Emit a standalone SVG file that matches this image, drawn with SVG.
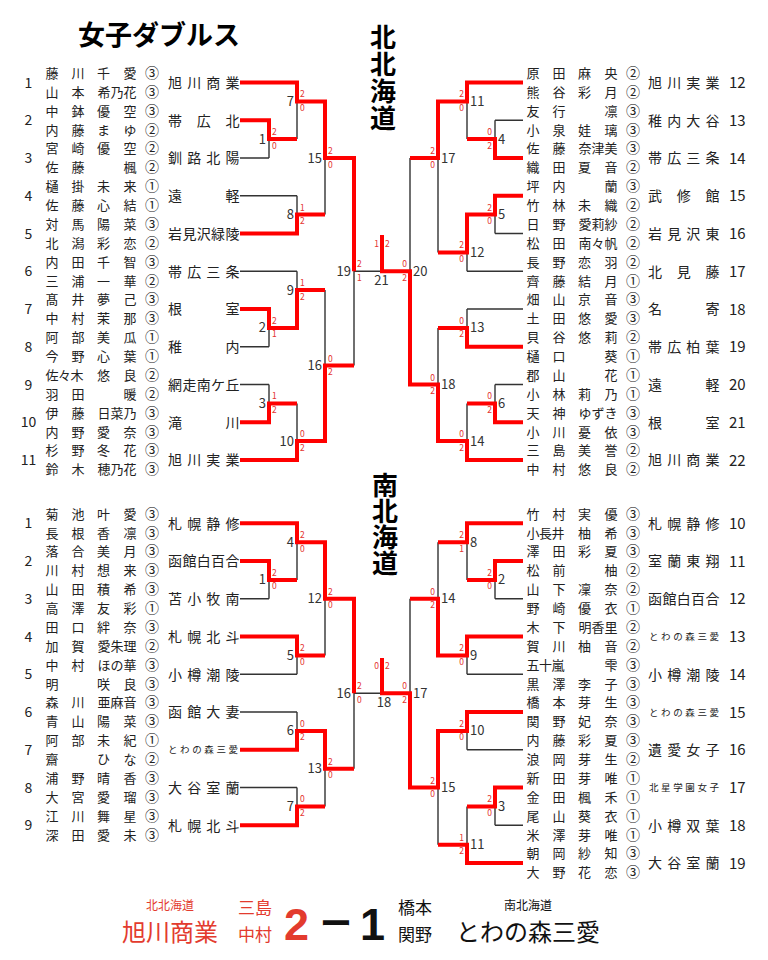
<svg xmlns="http://www.w3.org/2000/svg" width="768" height="960" viewBox="0 0 768 960">
<style>
text{font-family:"Noto Sans CJK JP","Noto Sans",sans-serif;fill:#222}
.nm{font-size:13px}
.cn{font-size:14px}
.tm{font-size:14px}
.ts{font-size:9.5px}
.no{font-size:14px;text-anchor:middle}
.rn{font-size:15px}
.ml{font-size:13px;fill:#333}
.mr{font-size:13px;fill:#333;text-anchor:end}
.mc{font-size:13px;fill:#333;text-anchor:middle}
.sl{font-size:8.5px;fill:#e4332f}
.sr{font-size:8.5px;fill:#e4332f;text-anchor:end}
.bk{fill:none;stroke:#333;stroke-width:1.4}
.rd{fill:none;stroke:#ff0000;stroke-width:4;stroke-linejoin:miter}
.ttl{font-size:27px;font-weight:bold;fill:#000}
.vt{font-size:26px;font-weight:bold;fill:#000;text-anchor:middle}
</style>
<rect width="768" height="960" fill="#fff"/>
<text class="ttl" x="78" y="45">女子ダブルス</text>
<text class="vt" x="383 383 383 383" y="47 74 101 128">北北海道</text>
<text class="vt" x="385 385 385 385" y="495 521 547 573">南北海道</text>

<g id="connectors">
<path class="bk" d="M240,82.5H297M240,120.25H269M240,158H269M240,195.75H297M240,233.5H297M240,271.25H297M240,309H269M240,346.75H269M240,384.5H269M240,422.25H269M240,460H297M269,120.25V158M297,82.5V139.1M297,195.75V233.5M325,101.4V214.6M269,309V346.75M297,271.25V327.9M269,384.5V422.25M297,403.4V460M325,290.1V441.1M354,158V365.6M269,139.1H297M297,101.4H325M297,214.6H325M325,158H354M269,327.9H297M297,290.1H325M269,403.4H297M297,441.1H325M325,365.6H354M354,271.25H382"/>
<path class="bk" d="M523,82.5H467M523,120.25H495M523,158H495M523,195.75H495M523,233.5H495M523,271.25H467M523,309H467M523,346.75H467M523,384.5H495M523,422.25H495M523,460H467M495,120.25V158M467,82.5V139.1M495,195.75V233.5M467,214.6V271.25M438,101.4V252.4M467,309V346.75M495,384.5V422.25M467,403.4V460M438,327.9V441.1M410,158V384.5M495,139.1H467M467,101.4H438M495,214.6H467M467,252.4H438M438,158H410M467,327.9H438M495,403.4H467M467,441.1H438M438,384.5H410M410,271.25H382"/>
<path class="bk" d="M240,523.3H297M240,561.05H269M240,598.8H269M240,636.55H297M240,674.3H297M240,712.05H297M240,749.8H297M240,787.55H297M240,825.3H297M269,561.05V598.8M297,523.3V579.9M297,636.55V674.3M325,542.2V655.4M297,712.05V749.8M297,787.55V825.3M325,730.9V806.4M354,598.8V768.7M269,579.9H297M297,542.2H325M297,655.4H325M325,598.8H354M297,730.9H325M297,806.4H325M325,768.7H354M354,693.2H382"/>
<path class="bk" d="M523,523.3H467M523,561.05H495M523,598.8H495M523,636.55H467M523,674.3H467M523,712.05H467M523,749.8H467M523,787.55H495M523,825.3H495M523,863.05H467M495,561.05V598.8M467,523.3V579.9M467,636.55V674.3M438,542.2V655.4M467,712.05V749.8M495,787.55V825.3M467,806.4V863.05M438,730.9V844.8M410,598.8V787.55M495,579.9H467M467,542.2H438M467,655.4H438M438,598.8H410M467,730.9H438M495,806.4H467M467,844.8H438M438,787.55H410M410,693.2H382"/>
<path class="rd" d="M240,82.5H297V101.4H325V158H354V271.25"/>
<path class="rd" d="M240,120.25H269V139.1H297"/>
<path class="rd" d="M240,233.5H297V214.6H325"/>
<path class="rd" d="M240,309H269V327.9H297V290.1H325"/>
<path class="rd" d="M240,422.25H269V403.4H297"/>
<path class="rd" d="M240,460H297V441.1H325V365.6H354"/>
<path class="rd" d="M523,82.5H467V101.4H438V158H410"/>
<path class="rd" d="M523,158H495V139.1H467"/>
<path class="rd" d="M523,195.75H495V214.6H467V252.4H438"/>
<path class="rd" d="M523,346.75H467V327.9H438"/>
<path class="rd" d="M523,422.25H495V403.4H467"/>
<path class="rd" d="M523,460H467V441.1H438V384.5H410V271.25H382V235"/>
<path class="rd" d="M240,523.3H297V542.2H325V598.8H354V693.2"/>
<path class="rd" d="M240,561.05H269V579.9H297"/>
<path class="rd" d="M240,636.55H297V655.4H325"/>
<path class="rd" d="M240,749.8H297V730.9H325V768.7H354"/>
<path class="rd" d="M240,825.3H297V806.4H325"/>
<path class="rd" d="M523,523.3H467V542.2H438"/>
<path class="rd" d="M523,561.05H495V579.9H467"/>
<path class="rd" d="M523,636.55H467V655.4H438V598.8H410"/>
<path class="rd" d="M523,712.05H467V730.9H438V787.55H410V693.2H382V658"/>
<path class="rd" d="M523,787.55H495V806.4H467"/>
<path class="rd" d="M523,863.05H467V844.8H438"/>
</g>

<g id="scores">
<text class="sl" x="272" y="135.1">2</text><text class="sl" x="272" y="148.6">0</text>
<text class="sl" x="300" y="97.4">2</text><text class="sl" x="300" y="110.9">0</text>
<text class="sl" x="300" y="210.6">1</text><text class="sl" x="300" y="224.1">2</text>
<text class="sl" x="328" y="154">2</text><text class="sl" x="328" y="167.5">0</text>
<text class="sl" x="272" y="323.9">2</text><text class="sl" x="272" y="337.4">1</text>
<text class="sl" x="300" y="286.1">1</text><text class="sl" x="300" y="299.6">2</text>
<text class="sl" x="272" y="399.4">1</text><text class="sl" x="272" y="412.9">2</text>
<text class="sl" x="300" y="437.1">0</text><text class="sl" x="300" y="450.6">2</text>
<text class="sl" x="328" y="361.6">0</text><text class="sl" x="328" y="375.1">2</text>
<text class="sl" x="357" y="267.25">2</text><text class="sl" x="357" y="280.75">1</text>
<text class="sr" x="492" y="135.1">0</text><text class="sr" x="492" y="148.6">2</text>
<text class="sr" x="464" y="97.4">2</text><text class="sr" x="464" y="110.9">0</text>
<text class="sr" x="492" y="210.6">2</text><text class="sr" x="492" y="224.1">0</text>
<text class="sr" x="464" y="248.4">2</text><text class="sr" x="464" y="261.9">0</text>
<text class="sr" x="435" y="154">2</text><text class="sr" x="435" y="167.5">0</text>
<text class="sr" x="464" y="323.9">0</text><text class="sr" x="464" y="337.4">2</text>
<text class="sr" x="492" y="399.4">0</text><text class="sr" x="492" y="412.9">2</text>
<text class="sr" x="464" y="437.1">0</text><text class="sr" x="464" y="450.6">2</text>
<text class="sr" x="435" y="380.5">0</text><text class="sr" x="435" y="394">2</text>
<text class="sr" x="407" y="267.25">0</text><text class="sr" x="407" y="280.75">2</text>
<text class="sr" x="379" y="247">1</text><text class="sl" x="385" y="247">2</text>
<text class="sl" x="272" y="575.9">2</text><text class="sl" x="272" y="589.4">0</text>
<text class="sl" x="300" y="538.2">2</text><text class="sl" x="300" y="551.7">0</text>
<text class="sl" x="300" y="651.4">2</text><text class="sl" x="300" y="664.9">0</text>
<text class="sl" x="328" y="594.8">2</text><text class="sl" x="328" y="608.3">0</text>
<text class="sl" x="300" y="726.9">0</text><text class="sl" x="300" y="740.4">2</text>
<text class="sl" x="300" y="802.4">0</text><text class="sl" x="300" y="815.9">2</text>
<text class="sl" x="328" y="764.7">2</text><text class="sl" x="328" y="778.2">0</text>
<text class="sl" x="357" y="689.2">2</text><text class="sl" x="357" y="702.7">0</text>
<text class="sr" x="492" y="575.9">2</text><text class="sr" x="492" y="589.4">0</text>
<text class="sr" x="464" y="538.2">2</text><text class="sr" x="464" y="551.7">1</text>
<text class="sr" x="464" y="651.4">2</text><text class="sr" x="464" y="664.9">0</text>
<text class="sr" x="435" y="594.8">0</text><text class="sr" x="435" y="608.3">2</text>
<text class="sr" x="464" y="726.9">2</text><text class="sr" x="464" y="740.4">0</text>
<text class="sr" x="492" y="802.4">2</text><text class="sr" x="492" y="815.9">0</text>
<text class="sr" x="464" y="840.8">1</text><text class="sr" x="464" y="854.3">2</text>
<text class="sr" x="435" y="783.55">2</text><text class="sr" x="435" y="797.05">0</text>
<text class="sr" x="407" y="689.2">0</text><text class="sr" x="407" y="702.7">2</text>
<text class="sr" x="379" y="669">0</text><text class="sl" x="385" y="669">2</text>
</g>

<g id="match-labels">
<text class="mr" x="266" y="143.6">1</text><text class="mr" x="294" y="105.9">7</text><text class="mr" x="294" y="219.1">8</text><text class="mr" x="322" y="162.5">15</text><text class="mr" x="266" y="332.4">2</text><text class="mr" x="294" y="294.6">9</text><text class="mr" x="266" y="407.9">3</text><text class="mr" x="294" y="445.6">10</text><text class="mr" x="322" y="370.1">16</text><text class="mr" x="351" y="275.75">19</text>
<text class="ml" x="498" y="143.6">4</text><text class="ml" x="470" y="105.9">11</text><text class="ml" x="498" y="219.1">5</text><text class="ml" x="470" y="256.9">12</text><text class="ml" x="441" y="162.5">17</text><text class="ml" x="470" y="332.4">13</text><text class="ml" x="498" y="407.9">6</text><text class="ml" x="470" y="445.6">14</text><text class="ml" x="441" y="389">18</text><text class="ml" x="413" y="275.75">20</text>
<text class="mc" x="381.5" y="285">21</text>
<text class="mr" x="266" y="584.4">1</text><text class="mr" x="294" y="546.7">4</text><text class="mr" x="294" y="659.9">5</text><text class="mr" x="322" y="603.3">12</text><text class="mr" x="294" y="735.4">6</text><text class="mr" x="294" y="810.9">7</text><text class="mr" x="322" y="773.2">13</text><text class="mr" x="351" y="697.7">16</text>
<text class="ml" x="498" y="584.4">2</text><text class="ml" x="470" y="546.7">8</text><text class="ml" x="470" y="659.9">9</text><text class="ml" x="441" y="603.3">14</text><text class="ml" x="470" y="735.4">10</text><text class="ml" x="498" y="810.9">3</text><text class="ml" x="470" y="849.3">11</text><text class="ml" x="441" y="792.05">15</text><text class="ml" x="413" y="697.7">17</text>
<text class="mc" x="384" y="707">18</text>
</g>

<!-- top left entries -->
<g id="nl1"><text class="no" x="28.5" y="87.5">1</text><text class="nm" x="45.5 71.5 97 123.5" y="77.9">藤川千愛<tspan class="cn" x="145">③</tspan></text><text class="nm" x="45.5 71.5 97.5 110.5 123.5" y="96.8">山本希乃花<tspan class="cn" x="145">③</tspan></text><text class="tm" x="168 187.2 206.3 225.5" y="87.8">旭川商業</text></g>
<g id="nl2"><text class="no" x="28.5" y="125.25">2</text><text class="nm" x="45.5 71.5 97 123.5" y="115.65">中鉢優空<tspan class="cn" x="145">③</tspan></text><text class="nm" x="45.5 71.5 97 123.5" y="134.55">内藤まゆ<tspan class="cn" x="145">②</tspan></text><text class="tm" x="168 196.75 225.5" y="125.55">帯広北</text></g>
<g id="nl3"><text class="no" x="28.5" y="163">3</text><text class="nm" x="45.5 71.5 97 123.5" y="153.4">宮崎優空<tspan class="cn" x="145">②</tspan></text><text class="nm" x="45.5 71.5 123.5" y="172.3">佐藤楓<tspan class="cn" x="145">②</tspan></text><text class="tm" x="168 187.2 206.3 225.5" y="163.3">釧路北陽</text></g>
<g id="nl4"><text class="no" x="28.5" y="200.75">4</text><text class="nm" x="45.5 71.5 97 123.5" y="191.15">樋掛未来<tspan class="cn" x="145">①</tspan></text><text class="nm" x="45.5 71.5 97 123.5" y="210.05">佐藤心結<tspan class="cn" x="145">①</tspan></text><text class="tm" x="168 225.5" y="201.05">遠軽</text></g>
<g id="nl5"><text class="no" x="28.5" y="238.5">5</text><text class="nm" x="45.5 71.5 97 123.5" y="228.9">対馬陽菜<tspan class="cn" x="145">③</tspan></text><text class="nm" x="45.5 71.5 97 123.5" y="247.8">北潟彩恋<tspan class="cn" x="145">②</tspan></text><text class="tm" x="168 182.4 196.75 211.1 225.5" y="238.8">岩見沢緑陵</text></g>
<g id="nl6"><text class="no" x="28.5" y="276.25">6</text><text class="nm" x="45.5 71.5 97 123.5" y="266.65">内田千智<tspan class="cn" x="145">③</tspan></text><text class="nm" x="45.5 71.5 97 123.5" y="285.55">三浦一華<tspan class="cn" x="145">②</tspan></text><text class="tm" x="168 187.2 206.3 225.5" y="276.55">帯広三条</text></g>
<g id="nl7"><text class="no" x="28.5" y="314">7</text><text class="nm" x="45.5 71.5 97 123.5" y="304.4">髙井夢己<tspan class="cn" x="145">③</tspan></text><text class="nm" x="45.5 71.5 97 123.5" y="323.3">中村茉那<tspan class="cn" x="145">③</tspan></text><text class="tm" x="168 225.5" y="314.3">根室</text></g>
<g id="nl8"><text class="no" x="28.5" y="351.75">8</text><text class="nm" x="45.5 71.5 97 123.5" y="342.15">阿部美瓜<tspan class="cn" x="145">①</tspan></text><text class="nm" x="45.5 71.5 97 123.5" y="361.05">今野心葉<tspan class="cn" x="145">①</tspan></text><text class="tm" x="168 225.5" y="352.05">稚内</text></g>
<g id="nl9"><text class="no" x="28.5" y="389.5">9</text><text class="nm" x="45.5 58 70.5 97 123.5" y="379.9">佐々木悠良<tspan class="cn" x="145">②</tspan></text><text class="nm" x="45.5 71.5 123.5" y="398.8">羽田暖<tspan class="cn" x="145">②</tspan></text><text class="tm" x="168 182.4 196.75 211.1 225.5" y="389.8">網走南ケ丘</text></g>
<g id="nl10"><text class="no" x="28.5" y="427.25">10</text><text class="nm" x="45.5 71.5 97.5 110.5 123.5" y="417.65">伊藤日菜乃<tspan class="cn" x="145">③</tspan></text><text class="nm" x="45.5 71.5 97 123.5" y="436.55">内野愛奈<tspan class="cn" x="145">③</tspan></text><text class="tm" x="168 225.5" y="427.55">滝川</text></g>
<g id="nl11"><text class="no" x="28.5" y="465">11</text><text class="nm" x="45.5 71.5 97 123.5" y="455.4">杉野冬花<tspan class="cn" x="145">③</tspan></text><text class="nm" x="45.5 71.5 97.5 110.5 123.5" y="474.3">鈴木穂乃花<tspan class="cn" x="145">③</tspan></text><text class="tm" x="168 187.2 206.3 225.5" y="465.3">旭川実業</text></g>

<!-- top right entries -->
<g id="nr12"><text class="nm" x="526.5 552.5 578 604.5" y="77.9">原田麻央<tspan class="cn" x="626">②</tspan></text><text class="nm" x="526.5 552.5 578 604.5" y="96.8">熊谷彩月<tspan class="cn" x="626">②</tspan></text><text class="tm" x="648 667.2 686.3 705.5" y="87.8">旭川実業</text><text class="rn" x="729" y="88">12</text></g>
<g id="nr13"><text class="nm" x="526.5 552.5 604.5" y="115.65">友行凛<tspan class="cn" x="626">③</tspan></text><text class="nm" x="526.5 552.5 578 604.5" y="134.55">小泉娃璃<tspan class="cn" x="626">③</tspan></text><text class="tm" x="648 667.2 686.3 705.5" y="125.55">稚内大谷</text><text class="rn" x="729" y="125.75">13</text></g>
<g id="nr14"><text class="nm" x="526.5 552.5 578.5 591.5 604.5" y="153.4">佐藤奈津美<tspan class="cn" x="626">③</tspan></text><text class="nm" x="526.5 552.5 578 604.5" y="172.3">織田夏音<tspan class="cn" x="626">②</tspan></text><text class="tm" x="648 667.2 686.3 705.5" y="163.3">帯広三条</text><text class="rn" x="729" y="163.5">14</text></g>
<g id="nr15"><text class="nm" x="526.5 552.5 604.5" y="191.15">坪内蘭<tspan class="cn" x="626">③</tspan></text><text class="nm" x="526.5 552.5 578 604.5" y="210.05">竹林未織<tspan class="cn" x="626">②</tspan></text><text class="tm" x="648 676.75 705.5" y="201.05">武修館</text><text class="rn" x="729" y="201.25">15</text></g>
<g id="nr16"><text class="nm" x="526.5 552.5 578.5 591.5 604.5" y="228.9">日野愛莉紗<tspan class="cn" x="626">②</tspan></text><text class="nm" x="526.5 552.5 578.5 591.5 604.5" y="247.8">松田南々帆<tspan class="cn" x="626">②</tspan></text><text class="tm" x="648 667.2 686.3 705.5" y="238.8">岩見沢東</text><text class="rn" x="729" y="239">16</text></g>
<g id="nr17"><text class="nm" x="526.5 552.5 578 604.5" y="266.65">長野恋羽<tspan class="cn" x="626">②</tspan></text><text class="nm" x="526.5 552.5 578 604.5" y="285.55">齊藤結月<tspan class="cn" x="626">①</tspan></text><text class="tm" x="648 676.75 705.5" y="276.55">北見藤</text><text class="rn" x="729" y="276.75">17</text></g>
<g id="nr18"><text class="nm" x="526.5 552.5 578 604.5" y="304.4">畑山京音<tspan class="cn" x="626">③</tspan></text><text class="nm" x="526.5 552.5 578 604.5" y="323.3">土田悠愛<tspan class="cn" x="626">③</tspan></text><text class="tm" x="648 705.5" y="314.3">名寄</text><text class="rn" x="729" y="314.5">18</text></g>
<g id="nr19"><text class="nm" x="526.5 552.5 578 604.5" y="342.15">貝谷悠莉<tspan class="cn" x="626">②</tspan></text><text class="nm" x="526.5 552.5 604.5" y="361.05">樋口葵<tspan class="cn" x="626">①</tspan></text><text class="tm" x="648 667.2 686.3 705.5" y="352.05">帯広柏葉</text><text class="rn" x="729" y="352.25">19</text></g>
<g id="nr20"><text class="nm" x="526.5 552.5 604.5" y="379.9">郡山花<tspan class="cn" x="626">①</tspan></text><text class="nm" x="526.5 552.5 578 604.5" y="398.8">小林莉乃<tspan class="cn" x="626">①</tspan></text><text class="tm" x="648 705.5" y="389.8">遠軽</text><text class="rn" x="729" y="390">20</text></g>
<g id="nr21"><text class="nm" x="526.5 552.5 578.5 591.5 604.5" y="417.65">天神ゆずき<tspan class="cn" x="626">③</tspan></text><text class="nm" x="526.5 552.5 578 604.5" y="436.55">小川憂依<tspan class="cn" x="626">③</tspan></text><text class="tm" x="648 705.5" y="427.55">根室</text><text class="rn" x="729" y="427.75">21</text></g>
<g id="nr22"><text class="nm" x="526.5 552.5 578 604.5" y="455.4">三島美誉<tspan class="cn" x="626">②</tspan></text><text class="nm" x="526.5 552.5 578 604.5" y="474.3">中村悠良<tspan class="cn" x="626">②</tspan></text><text class="tm" x="648 667.2 686.3 705.5" y="465.3">旭川商業</text><text class="rn" x="729" y="465.5">22</text></g>

<!-- bottom left entries -->
<g id="sl1"><text class="no" x="28.5" y="528.3">1</text><text class="nm" x="45.5 71.5 97 123.5" y="518.7">菊池叶愛<tspan class="cn" x="145">③</tspan></text><text class="nm" x="45.5 71.5 97 123.5" y="537.6">長根香凛<tspan class="cn" x="145">③</tspan></text><text class="tm" x="168 187.2 206.3 225.5" y="528.6">札幌静修</text></g>
<g id="sl2"><text class="no" x="28.5" y="566.05">2</text><text class="nm" x="45.5 71.5 97 123.5" y="556.45">落合美月<tspan class="cn" x="145">③</tspan></text><text class="nm" x="45.5 71.5 97 123.5" y="575.35">川村想来<tspan class="cn" x="145">③</tspan></text><text class="tm" x="168 182.4 196.75 211.1 225.5" y="566.35">函館白百合</text></g>
<g id="sl3"><text class="no" x="28.5" y="603.8">3</text><text class="nm" x="45.5 71.5 97 123.5" y="594.2">山田積希<tspan class="cn" x="145">③</tspan></text><text class="nm" x="45.5 71.5 97 123.5" y="613.1">高澤友彩<tspan class="cn" x="145">①</tspan></text><text class="tm" x="168 187.2 206.3 225.5" y="604.1">苫小牧南</text></g>
<g id="sl4"><text class="no" x="28.5" y="641.55">4</text><text class="nm" x="45.5 71.5 97 123.5" y="631.95">田口絆奈<tspan class="cn" x="145">③</tspan></text><text class="nm" x="45.5 71.5 97.5 110.5 123.5" y="650.85">加賀愛朱理<tspan class="cn" x="145">②</tspan></text><text class="tm" x="168 187.2 206.3 225.5" y="641.85">札幌北斗</text></g>
<g id="sl5"><text class="no" x="28.5" y="679.3">5</text><text class="nm" x="45.5 71.5 97.5 110.5 123.5" y="669.7">中村ほの華<tspan class="cn" x="145">③</tspan></text><text class="nm" x="45.5 97 123.5" y="688.6">明咲良<tspan class="cn" x="145">③</tspan></text><text class="tm" x="168 187.2 206.3 225.5" y="679.6">小樽潮陵</text></g>
<g id="sl6"><text class="no" x="28.5" y="717.05">6</text><text class="nm" x="45.5 71.5 97.5 110.5 123.5" y="707.45">森川亜麻音<tspan class="cn" x="145">③</tspan></text><text class="nm" x="45.5 71.5 97 123.5" y="726.35">青山陽菜<tspan class="cn" x="145">③</tspan></text><text class="tm" x="168 187.2 206.3 225.5" y="717.35">函館大妻</text></g>
<g id="sl7"><text class="no" x="28.5" y="754.8">7</text><text class="nm" x="45.5 71.5 97 123.5" y="745.2">阿部未紀<tspan class="cn" x="145">①</tspan></text><text class="nm" x="45.5 97 123.5" y="764.1">齋ひな<tspan class="cn" x="145">②</tspan></text><text class="ts" x="168 180.1 192.2 204.3 216.4 228.5" y="753.3">とわの森三愛</text></g>
<g id="sl8"><text class="no" x="28.5" y="792.55">8</text><text class="nm" x="45.5 71.5 97 123.5" y="782.95">浦野晴香<tspan class="cn" x="145">③</tspan></text><text class="nm" x="45.5 71.5 97 123.5" y="801.85">大宮愛瑠<tspan class="cn" x="145">③</tspan></text><text class="tm" x="168 187.2 206.3 225.5" y="792.85">大谷室蘭</text></g>
<g id="sl9"><text class="no" x="28.5" y="830.3">9</text><text class="nm" x="45.5 71.5 97 123.5" y="820.7">江川舞星<tspan class="cn" x="145">③</tspan></text><text class="nm" x="45.5 71.5 97 123.5" y="839.6">深田愛未<tspan class="cn" x="145">③</tspan></text><text class="tm" x="168 187.2 206.3 225.5" y="830.6">札幌北斗</text></g>

<!-- bottom right entries -->
<g id="sr10"><text class="nm" x="526.5 552.5 578 604.5" y="518.7">竹村実優<tspan class="cn" x="626">③</tspan></text><text class="nm" x="526.5 539 551.5 578 604.5" y="537.6">小長井柚希<tspan class="cn" x="626">③</tspan></text><text class="tm" x="648 667.2 686.3 705.5" y="528.6">札幌静修</text><text class="rn" x="729" y="528.8">10</text></g>
<g id="sr11"><text class="nm" x="526.5 552.5 578 604.5" y="556.45">澤田彩夏<tspan class="cn" x="626">③</tspan></text><text class="nm" x="526.5 552.5 604.5" y="575.35">松前柚<tspan class="cn" x="626">②</tspan></text><text class="tm" x="648 667.2 686.3 705.5" y="566.35">室蘭東翔</text><text class="rn" x="729" y="566.55">11</text></g>
<g id="sr12"><text class="nm" x="526.5 552.5 578 604.5" y="594.2">山下凜奈<tspan class="cn" x="626">②</tspan></text><text class="nm" x="526.5 552.5 578 604.5" y="613.1">野崎優衣<tspan class="cn" x="626">①</tspan></text><text class="tm" x="648 662.4 676.75 691.1 705.5" y="604.1">函館白百合</text><text class="rn" x="729" y="604.3">12</text></g>
<g id="sr13"><text class="nm" x="526.5 552.5 578.5 591.5 604.5" y="631.95">木下明香里<tspan class="cn" x="626">②</tspan></text><text class="nm" x="526.5 552.5 578 604.5" y="650.85">賀川柚音<tspan class="cn" x="626">②</tspan></text><text class="ts" x="649 661.1 673.2 685.3 697.4 709.5" y="640.05">とわの森三愛</text><text class="rn" x="729" y="642.05">13</text></g>
<g id="sr14"><text class="nm" x="526.5 539 551.5 604.5" y="669.7">五十嵐雫<tspan class="cn" x="626">③</tspan></text><text class="nm" x="526.5 552.5 578 604.5" y="688.6">黒澤李子<tspan class="cn" x="626">③</tspan></text><text class="tm" x="648 667.2 686.3 705.5" y="679.6">小樽潮陵</text><text class="rn" x="729" y="679.8">14</text></g>
<g id="sr15"><text class="nm" x="526.5 552.5 578 604.5" y="707.45">橋本芽生<tspan class="cn" x="626">③</tspan></text><text class="nm" x="526.5 552.5 578 604.5" y="726.35">関野妃奈<tspan class="cn" x="626">③</tspan></text><text class="ts" x="649 661.1 673.2 685.3 697.4 709.5" y="715.55">とわの森三愛</text><text class="rn" x="729" y="717.55">15</text></g>
<g id="sr16"><text class="nm" x="526.5 552.5 578 604.5" y="745.2">内藤彩夏<tspan class="cn" x="626">③</tspan></text><text class="nm" x="526.5 552.5 578 604.5" y="764.1">浪岡芽生<tspan class="cn" x="626">②</tspan></text><text class="tm" x="648 667.2 686.3 705.5" y="755.1">遺愛女子</text><text class="rn" x="729" y="755.3">16</text></g>
<g id="sr17"><text class="nm" x="526.5 552.5 578 604.5" y="782.95">新田芽唯<tspan class="cn" x="626">①</tspan></text><text class="nm" x="526.5 552.5 578 604.5" y="801.85">金田楓禾<tspan class="cn" x="626">①</tspan></text><text class="ts" x="649 661.1 673.2 685.3 697.4 709.5" y="791.05">北星学園女子</text><text class="rn" x="729" y="793.05">17</text></g>
<g id="sr18"><text class="nm" x="526.5 552.5 578 604.5" y="820.7">尾山葵衣<tspan class="cn" x="626">①</tspan></text><text class="nm" x="526.5 552.5 578 604.5" y="839.6">米澤芽唯<tspan class="cn" x="626">①</tspan></text><text class="tm" x="648 667.2 686.3 705.5" y="830.6">小樽双葉</text><text class="rn" x="729" y="830.8">18</text></g>
<g id="sr19"><text class="nm" x="526.5 552.5 578 604.5" y="858.45">朝岡紗知<tspan class="cn" x="626">③</tspan></text><text class="nm" x="526.5 552.5 578 604.5" y="877.35">大野花恋<tspan class="cn" x="626">③</tspan></text><text class="tm" x="648 667.2 686.3 705.5" y="868.35">大谷室蘭</text><text class="rn" x="729" y="868.55">19</text></g>

<g id="result">
<text x="170" y="910" font-size="12" text-anchor="middle" style="fill:#e33b2e">北北海道</text>
<text x="170" y="941" font-size="24" text-anchor="middle" style="fill:#e33b2e">旭川商業</text>
<text x="238" y="914" font-size="17" style="fill:#e33b2e">三島</text>
<text x="238" y="941" font-size="17" style="fill:#e33b2e">中村</text>
<text x="284" y="940" font-size="45" font-weight="bold" style="fill:#e33b2e;font-family:'Liberation Sans',sans-serif">2</text>
<text x="336" y="935" font-size="32" font-weight="bold" text-anchor="middle" style="fill:#111">ー</text>
<text x="360" y="940" font-size="45" font-weight="bold" style="fill:#111;font-family:'Liberation Sans',sans-serif">1</text>
<text x="398" y="914" font-size="17" style="fill:#111">橋本</text>
<text x="398" y="941" font-size="17" style="fill:#111">関野</text>
<text x="528" y="910" font-size="12" text-anchor="middle" style="fill:#111">南北海道</text>
<text x="528" y="941" font-size="24" text-anchor="middle" style="fill:#111">とわの森三愛</text>
</g>
</svg>
